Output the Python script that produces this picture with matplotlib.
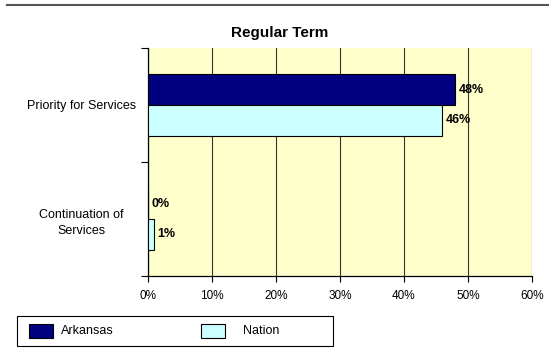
import matplotlib
matplotlib.use("Agg")
import matplotlib.pyplot as plt
from matplotlib.patches import Rectangle
from matplotlib.lines import Line2D

categories = ["Priority for Services", "Continuation of\nServices"]
arkansas = [48, 0]
nation = [46, 1]
series_names = ["Arkansas", "Nation"]
xticks = [0, 10, 20, 30, 40, 50, 60]

plt.rcParams['font.family'] = ['Liberation Sans', 'DejaVu Sans']

W, H = 549, 351
fig = plt.figure(figsize=(W/100, H/100), dpi=100)
fig.patch.set_facecolor('white')
ax = fig.add_axes([148/W, 1-276/H, (532-148)/W, (276-48)/H])
ax.set_facecolor('#FFFFCC')

ypos = [1, 0]
h = 0.27
c_ark = '#000080'
c_nat = '#CCFFFF'
ax.barh([y + h/2 for y in ypos], arkansas, height=h, color=c_ark, edgecolor='black', linewidth=0.8, zorder=3)
ax.barh([y - h/2 for y in ypos], nation, height=h, color=c_nat, edgecolor='black', linewidth=0.8, zorder=3)

for y, v in zip(ypos, arkansas):
    ax.text(v + 0.5, y + h/2, f"{v}%", va='center', ha='left', fontsize=9, fontweight='bold', zorder=4)
for y, v in zip(ypos, nation):
    ax.text(v + 0.5, y - h/2, f"{v}%", va='center', ha='left', fontsize=9, fontweight='bold', zorder=4)

ax.set_xlim(0, 60)
ax.set_ylim(-0.5, 1.5)
ax.set_xticks(xticks)
ax.set_xticklabels([f"{t}%" for t in xticks], fontsize=8.5)
ax.xaxis.grid(True, color='#333333', linewidth=0.8, zorder=1)
ax.set_yticks([-0.5, 0.5, 1.5])
ax.set_yticklabels([])
ax.set_yticks(ypos, minor=True)
ax.set_yticklabels(categories, minor=True, fontsize=9, ha='center', linespacing=1.45)
ax.tick_params(axis='y', which='minor', length=0, pad=48)
ax.tick_params(axis='y', which='major', length=5, direction='out', width=0.8)
ax.tick_params(axis='x', length=4, direction='out', width=0.8, pad=6)
for s in ['top', 'right']:
    ax.spines[s].set_visible(False)
ax.spines['left'].set_linewidth(0.9)
ax.spines['bottom'].set_linewidth(0.9)

fig.text(280/W, 1-33/H, "Regular Term", ha='center', va='center', fontsize=11, fontweight='bold')
fig.add_artist(Line2D([7/W, 1.0], [1-5/H, 1-5/H], color='#555555', linewidth=1.5, transform=fig.transFigure))

# legend drawn manually
fig.add_artist(Rectangle((17/W, 1-346/H), (333-17)/W, 30/H, transform=fig.transFigure,
                         facecolor='white', edgecolor='black', linewidth=0.8))
leg_colors = [c_ark, c_nat]
patch_x = [29, 201]
text_x = [61, 243]
for name, col, px, tx in zip(series_names, leg_colors, patch_x, text_x):
    fig.add_artist(Rectangle((px/W, 1-331/H - 7/H), 24/W, 14/H, transform=fig.transFigure,
                             facecolor=col, edgecolor='black', linewidth=0.8))
    fig.text(tx/W, 1-331/H, name, ha='left', va='center', fontsize=9)

fig.savefig("out.png", dpi=100)
